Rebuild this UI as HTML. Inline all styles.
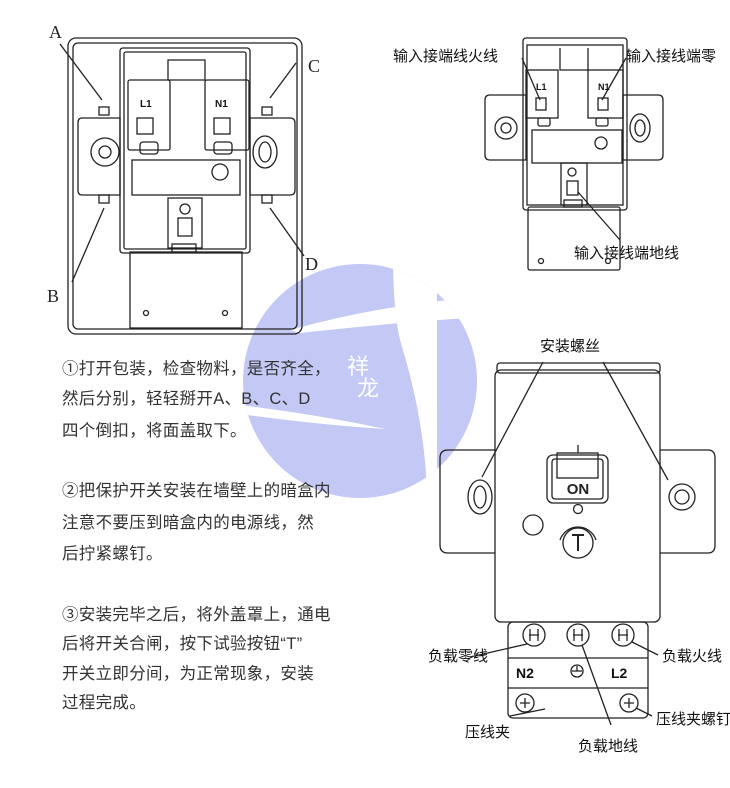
<!DOCTYPE html>
<html><head><meta charset="utf-8">
<style>
html,body{margin:0;padding:0;background:#fff;}
svg{display:block;}
text{font-family:"Liberation Sans","Noto Sans CJK SC",sans-serif;}
.t{font-size:16.5px;fill:#333;letter-spacing:0.3px;}
.l{font-size:15px;fill:#111;}
</style></head><body>
<svg width="730" height="788" viewBox="0 0 730 788" xmlns="http://www.w3.org/2000/svg">
<defs><clipPath id="cc"><circle cx="360" cy="381" r="117"/></clipPath></defs>
<!-- watermark -->
<g clip-path="url(#cc)">
<rect x="240" y="260" width="240" height="250" fill="#c3c8f5"/>
<path d="M290 330 Q380 305 470 298 L470 318 Q400 322 300 333 Z" fill="#fff"/>
<path d="M240 405 Q320 415 385 429 Q320 425 240 414 Z" fill="#fff"/>
<path d="M393 255 L437 255 L437 495 L427 495 Q425 420 400 340 Q393 310 393 255 Z" fill="#fff"/>
</g>
<text x="347" y="374" font-size="22" fill="#fff">祥</text>
<text x="357" y="396" font-size="22" fill="#fff">龙</text>

<g fill="none" stroke="#222" stroke-width="1.3">
<!-- LEFT DRAWING -->
<rect x="68" y="38" width="234" height="296" rx="8"/>
<rect x="73" y="43" width="224" height="286" rx="5"/>
<rect x="120" y="48" width="130" height="205" rx="3"/>
<rect x="124" y="52" width="122" height="197" rx="2"/>
<rect x="128" y="80" width="42" height="70" rx="2"/>
<rect x="205" y="80" width="44" height="70" rx="2"/>
<rect x="137" y="118" width="16" height="16"/>
<rect x="214" y="118" width="16" height="16"/>
<rect x="140" y="142" width="18" height="12" rx="3"/>
<rect x="214" y="142" width="18" height="12" rx="3"/>
<path d="M168 60 L168 80 L205 80 L205 60 Z"/>
<rect x="132" y="160" width="108" height="35"/>
<circle cx="220" cy="172" r="8"/>
<rect x="168" y="198" width="34" height="50"/>
<circle cx="185" cy="209" r="5"/>
<rect x="178" y="218" width="14" height="18"/>
<rect x="172" y="244" width="24" height="8"/>
<rect x="130" y="252" width="112" height="76"/>
<circle cx="146" cy="313" r="2.5"/>
<circle cx="225" cy="313" r="2.5"/>
<path d="M82 118 L120 118 L120 195 L82 195 Q78 195 78 190 L78 123 Q78 118 82 118 Z"/>
<circle cx="105" cy="152" r="14"/><circle cx="105" cy="152" r="6"/>
<path d="M250 118 L290 118 Q295 118 295 123 L295 190 Q295 195 290 195 L250 195 Z"/>
<ellipse cx="265" cy="152" rx="12" ry="16"/><ellipse cx="265" cy="152" rx="6" ry="10"/>
<rect x="99" y="107" width="10" height="8"/><rect x="99" y="195" width="10" height="8"/>
<rect x="262" y="107" width="10" height="8"/><rect x="262" y="195" width="10" height="8"/>
<line x1="60" y1="44" x2="102" y2="100"/>
<line x1="72" y1="282" x2="104" y2="208"/>
<line x1="296" y1="63" x2="270" y2="98"/>
<line x1="304" y1="256" x2="270" y2="208"/>

<!-- TOP RIGHT DRAWING -->
<rect x="523" y="38" width="104" height="172" rx="3"/>
<rect x="527" y="45" width="96" height="160"/>
<rect x="526" y="70" width="32" height="48"/>
<rect x="588" y="70" width="35" height="48"/>
<rect x="536" y="98" width="10" height="12"/><rect x="598" y="98" width="10" height="12"/>
<rect x="538" y="118" width="12" height="8" rx="2"/><rect x="596" y="118" width="12" height="8" rx="2"/>
<path d="M560 48 L560 70 L588 70 L588 48"/>
<rect x="532" y="130" width="90" height="33"/>
<circle cx="601" cy="143" r="6"/>
<rect x="561" y="163" width="26" height="42"/>
<circle cx="572" cy="172" r="4"/>
<rect x="567" y="181" width="11" height="14"/>
<rect x="564" y="200" width="18" height="7"/>
<rect x="528" y="207" width="92" height="63" rx="2"/>
<circle cx="541" cy="261" r="2.5"/><circle cx="608" cy="261" r="2.5"/>
<path d="M490 95 L526 95 L526 160 L490 160 Q485 160 485 155 L485 100 Q485 95 490 95 Z"/>
<circle cx="506" cy="128" r="11"/><circle cx="506" cy="128" r="5"/>
<path d="M623 95 L658 95 Q663 95 663 100 L663 155 Q663 160 658 160 L623 160 Z"/>
<ellipse cx="640" cy="128" rx="10" ry="14"/><ellipse cx="640" cy="128" rx="5" ry="8"/>
<line x1="522" y1="58" x2="540" y2="100"/>
<line x1="626" y1="58" x2="602" y2="100"/>
<line x1="578" y1="192" x2="620" y2="240"/>

<!-- BOTTOM RIGHT DRAWING -->
<rect x="497" y="363" width="163" height="10" rx="3"/>
<rect x="495" y="370" width="165" height="252" rx="6"/>
<path d="M495 450 L448 450 Q440 450 440 458 L440 545 Q440 553 448 553 L495 553"/>
<path d="M660 450 L708 450 Q715 450 715 458 L715 545 Q715 553 708 553 L660 553"/>
<ellipse cx="480" cy="497" rx="12" ry="17"/><ellipse cx="480" cy="497" rx="6" ry="11"/>
<circle cx="682" cy="497" r="13"/><circle cx="682" cy="497" r="7"/>
<rect x="547" y="455" width="61" height="48" rx="6"/>
<rect x="552" y="459" width="51" height="40" rx="3"/>
<rect x="557" y="453" width="41" height="25"/>
<line x1="578" y1="445" x2="578" y2="453"/>
<circle cx="578" cy="509" r="4.5"/>
<circle cx="578" cy="543" r="15"/>
<path d="M560 540 A19 19 0 0 1 596 540"/>
<path d="M572 535 L584 535 M578 535 L578 551" stroke-width="2"/>
<circle cx="533" cy="525" r="10"/>
<rect x="508" y="622" width="140" height="96" rx="5"/>
<line x1="508" y1="658" x2="648" y2="658"/>
<line x1="508" y1="688" x2="648" y2="688"/>
<circle cx="534" cy="635" r="11"/><circle cx="578" cy="635" r="11"/><circle cx="623" cy="635" r="11"/>
<path d="M530 629 L530 641 M538 629 L538 641 M529 635 L539 635"/>
<path d="M574 629 L574 641 M582 629 L582 641 M573 635 L583 635"/>
<path d="M619 629 L619 641 M627 629 L627 641 M618 635 L628 635"/>
<circle cx="525" cy="703" r="9"/><circle cx="629" cy="703" r="9"/>
<path d="M520 703 L530 703 M525 698 L525 708 M624 703 L634 703 M629 698 L629 708"/>
<circle cx="577" cy="671" r="6"/>
<path d="M572 671 L582 671 M577 666 L577 671"/>
<line x1="543" y1="362" x2="482" y2="477"/>
<line x1="603" y1="362" x2="668" y2="480"/>
<line x1="470" y1="657" x2="527" y2="644"/>
<line x1="658" y1="655" x2="632" y2="642"/>
<line x1="582" y1="645" x2="611" y2="725"/>
<line x1="510" y1="716" x2="545" y2="709"/>
<line x1="636" y1="708" x2="652" y2="716"/>
</g>
<text x="578" y="494" text-anchor="middle" font-size="15" font-weight="bold" fill="#222">ON</text>
<text x="140" y="107" font-size="10" font-weight="bold" fill="#111">L1</text>
<text x="215" y="107" font-size="10" font-weight="bold" fill="#111">N1</text>
<text x="536" y="90" font-size="9" font-weight="bold" fill="#111">L1</text>
<text x="598" y="90" font-size="9" font-weight="bold" fill="#111">N1</text>
<text x="516" y="678" font-size="14" font-weight="bold" fill="#111">N2</text>
<text x="611" y="678" font-size="14" font-weight="bold" fill="#111">L2</text>

<g font-size="18" fill="#222">
<text x="49" y="38" style="font-family:'Liberation Serif',serif">A</text>
<text x="47" y="302" style="font-family:'Liberation Serif',serif">B</text>
<text x="308" y="72" style="font-family:'Liberation Serif',serif">C</text>
<text x="305" y="270" style="font-family:'Liberation Serif',serif">D</text>
</g>

<g class="l">
<text x="393" y="61">输入接端线火线</text>
<text x="626" y="61">输入接线端零</text>
<text x="574" y="258">输入接线端地线</text>
<text x="540" y="351">安装螺丝</text>
<text x="428" y="661">负载零线</text>
<text x="662" y="661">负载火线</text>
<text x="465" y="737">压线夹</text>
<text x="578" y="751">负载地线</text>
<text x="656" y="724">压线夹螺钉</text>
</g>

<g class="t">
<text x="62" y="374">①打开包装，检查物料，是否齐全，</text>
<text x="62" y="404">然后分别，轻轻掰开A、B、C、D</text>
<text x="62" y="436">四个倒扣，将面盖取下。</text>
<text x="62" y="496">②把保护开关安装在墙壁上的暗盒内</text>
<text x="62" y="528">注意不要压到暗盒内的电源线，然</text>
<text x="62" y="559">后拧紧螺钉。</text>
<text x="62" y="620">③安装完毕之后，将外盖罩上，通电</text>
<text x="62" y="649">后将开关合闸，按下试验按钮“T”</text>
<text x="62" y="679">开关立即分间，为正常现象，安装</text>
<text x="62" y="708">过程完成。</text>
</g>
</svg>
</body></html>
